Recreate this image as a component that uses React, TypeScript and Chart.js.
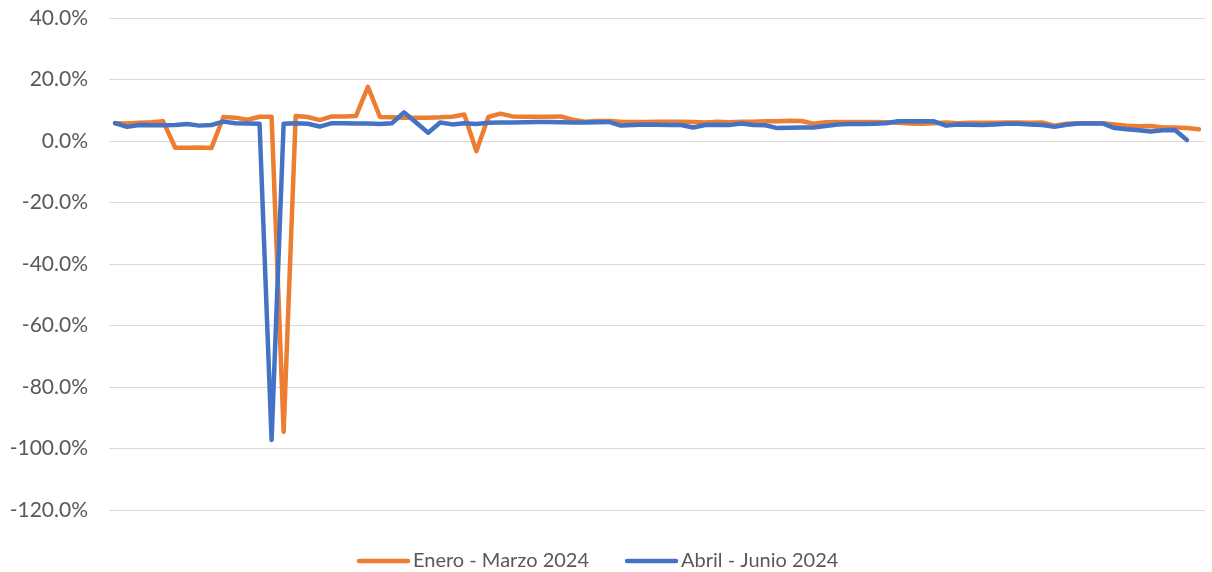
import React, { useEffect, useRef } from "react";
import { Chart, registerables } from "chart.js";

Chart.register(...registerables);

const categories: string[] = Array.from({ length: 91 }, (_, i) => String(i + 1));

const eneroMarzo: number[] = [
  5.8, 5.7, 5.9, 6.1, 6.4, -2.2, -2.2, -2.1, -2.3, 7.8,
  7.6, 6.9, 7.9, 7.9, -94.6, 8.1, 7.8, 6.8, 8.0, 8.0,
  8.1, 17.6, 7.8, 7.7, 7.6, 7.6, 7.6, 7.7, 7.9, 8.6,
  -3.3, 7.8, 8.9, 8.0, 7.9, 7.9, 7.9, 8.0, 6.9, 6.3,
  6.5, 6.5, 6.3, 6.2, 6.2, 6.3, 6.3, 6.3, 6.2, 6.0,
  6.3, 6.1, 6.3, 6.3, 6.4, 6.4, 6.6, 6.5, 5.6, 6.1,
  6.2, 6.2, 6.2, 6.2, 6.1, 5.9, 5.7, 5.6, 5.8, 6.0,
  5.8, 5.9, 5.9, 5.9, 6.0, 6.0, 5.9, 6.0, 5.0, 5.6,
  5.8, 5.8, 5.8, 5.4, 5.0, 4.8, 4.9, 4.4, 4.4, 4.2,
  3.8,
];

const abrilJunio: number[] = [
  5.8, 4.6, 5.2, 5.1, 5.1, 5.2, 5.5, 5.0, 5.2, 6.3,
  5.8, 5.7, 5.6, -97.2, 5.6, 5.8, 5.6, 4.7, 5.8, 5.8,
  5.7, 5.7, 5.5, 5.8, 9.3, 6.0, 2.7, 6.0, 5.4, 5.8,
  5.5, 5.9, 6.0, 6.0, 6.1, 6.2, 6.2, 6.1, 6.0, 6.0,
  6.1, 6.2, 5.0, 5.2, 5.4, 5.3, 5.2, 5.2, 4.4, 5.2,
  5.3, 5.2, 5.7, 5.2, 5.1, 4.2, 4.3, 4.4, 4.4, 4.9,
  5.4, 5.5, 5.5, 5.6, 5.8, 6.4, 6.4, 6.4, 6.4, 5.0,
  5.4, 5.3, 5.2, 5.4, 5.6, 5.6, 5.4, 5.2, 4.6, 5.3,
  5.7, 5.7, 5.7, 4.2, 3.8, 3.5, 3.1, 3.5, 3.6, 0.3,
];

const seriesNames: string[] = ["Enero - Marzo 2024", "Abril - Junio 2024"];
const seriesColors: string[] = ["#ED7D31", "#4472C4"];
const yMin = -120;
const yMax = 40;
const yStep = 20;

const FONT = "Lato, 'Liberation Sans', sans-serif";

const legendPlugin = {
  id: "bottomLegend",
  afterDraw(chart: any) {
    const ctx = chart.ctx;
    ctx.save();
    ctx.font = `20px ${FONT}`;
    ctx.textBaseline = "middle";
    ctx.textAlign = "left";
    const y = 561;
    let x = 357;
    const lineW = 53;
    chart.data.datasets.forEach((ds: any) => {
      ctx.strokeStyle = ds.borderColor;
      ctx.lineWidth = 4.5;
      ctx.lineCap = "round";
      ctx.beginPath();
      ctx.moveTo(x + 2, y);
      ctx.lineTo(x + lineW - 2, y);
      ctx.stroke();
      ctx.fillStyle = "#595959";
      const tx = x + lineW + 3;
      ctx.fillText(ds.label, tx, y);
      x = tx + ctx.measureText(ds.label).width + 36;
    });
    ctx.restore();
  },
};

export default function App() {
  const ref = useRef<HTMLCanvasElement | null>(null);

  useEffect(() => {
    document.body.style.margin = "0";
    const ctx = ref.current;
    if (!ctx) return;
    const chart = new Chart(ctx, {
      type: "line",
      data: {
        labels: categories,
        datasets: [
          {
            label: seriesNames[0],
            data: eneroMarzo,
            borderColor: seriesColors[0],
            backgroundColor: seriesColors[0],
            borderWidth: 4.5,
            pointRadius: 0,
            tension: 0,
            borderCapStyle: "round",
            borderJoinStyle: "round",
            order: 1,
          },
          {
            label: seriesNames[1],
            data: abrilJunio,
            borderColor: seriesColors[1],
            backgroundColor: seriesColors[1],
            borderWidth: 4.5,
            pointRadius: 0,
            tension: 0,
            borderCapStyle: "round",
            borderJoinStyle: "round",
            order: 0,
          },
        ],
      },
      options: {
        animation: false,
        responsive: false,
        maintainAspectRatio: false,
        layout: { padding: { left: 0, right: 7, top: 18, bottom: 62 } },
        plugins: {
          tooltip: { enabled: false },
          legend: { display: false },
        },
        scales: {
          x: {
            type: "category",
            offset: true,
            display: false,
            grid: { display: false },
          },
          y: {
            min: yMin,
            max: yMax,
            border: { display: false },
            grid: { color: "#D9D9D9", lineWidth: 1, drawTicks: false },
            ticks: {
              stepSize: yStep,
              padding: 21,
              color: "#595959",
              font: { family: FONT, size: 21 },
              callback: (v: any) => Number(v).toFixed(1) + "%",
            },
            afterFit: (scale: any) => {
              scale.width = 109;
              scale.paddingTop = 0;
              scale.paddingBottom = 0;
            },
          },
        },
      },
      plugins: [legendPlugin],
    });
    return () => chart.destroy();
  }, []);

  return (
    <div style={{ position: "absolute", left: 0, top: 0, width: 1212, height: 572 }}>
      <canvas ref={ref} width={1212} height={572} />
    </div>
  );
}
